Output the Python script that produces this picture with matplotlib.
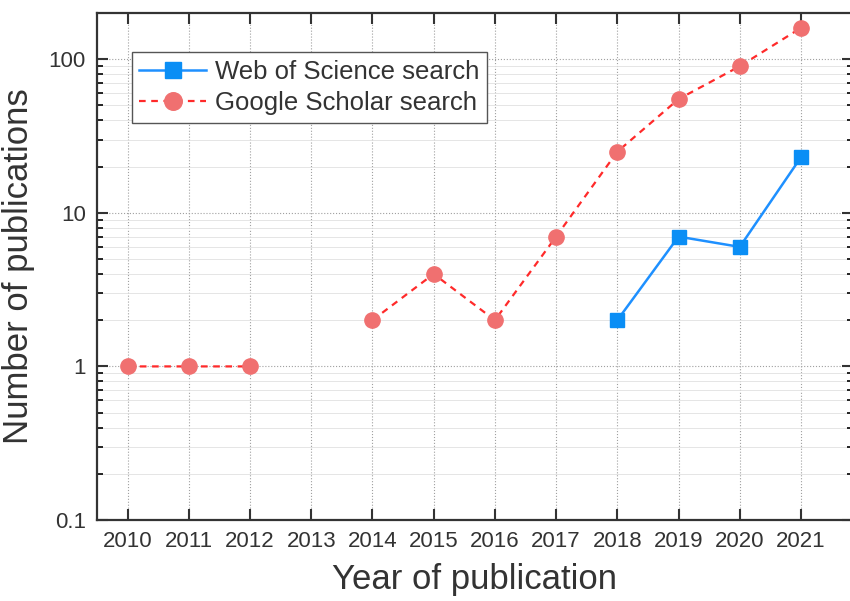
import matplotlib
matplotlib.use('Agg')
import matplotlib.pyplot as plt
import numpy as np

plt.rcParams['font.family'] = ['Liberation Sans', 'DejaVu Sans']

# --- data ---
years_wos = [2018, 2019, 2020, 2021]
pubs_wos = [2, 7, 6, 23]

years_gs = [2010, 2011, 2012, 2013, 2014, 2015, 2016, 2017, 2018, 2019, 2020, 2021]
pubs_gs = [1, 1, 1, np.nan, 2, 4, 2, 7, 25, 55, 90, 160]

x_ticks = list(range(2010, 2022))
y_ticks = [0.1, 1, 10, 100]
y_tick_labels = ['0.1', '1', '10', '100']

fig = plt.figure(figsize=(8.5, 6.01), dpi=100)
ax = fig.add_axes([97/850, 1 - 520/601, (853 - 97)/850, (520 - 13)/601])

ax.plot(years_wos, pubs_wos, color='#1E90FF', lw=1.8, marker='s', ms=10,
        mfc='#0A8EF5', mec='#0A8EF5', label='Web of Science search', zorder=4)
ax.plot(years_gs, pubs_gs, color='#FF2A2A', lw=1.6, ls=(0, (3, 2.5)), marker='o', ms=11,
        mfc='#F07070', mec='#F07070', label='Google Scholar search', zorder=3)

ax.set_yscale('log')
ax.set_xlim(2009.5, 2021.85)
ax.set_ylim(0.1, 200)
ax.set_xticks(x_ticks)
ax.set_xticklabels([str(y) for y in x_ticks])
ax.set_yticks(y_ticks)
ax.set_yticklabels(y_tick_labels)

ax.grid(True, which='major', color='#A0A0A0', ls=':', lw=0.8)
ax.grid(True, which='minor', axis='y', color='#E0E0E0', ls='-', lw=0.6)

ax.tick_params(which='major', direction='in', length=8, width=1.5, labelsize=16,
               colors='#333333', top=True, right=True, pad=8)
ax.tick_params(which='minor', direction='in', length=4, width=1.2, right=True)
ax.tick_params(axis='x', which='minor', bottom=False, top=False)
for s in ax.spines.values():
    s.set_linewidth(1.6)
    s.set_color('#333333')

ax.set_xlabel('Year of publication', fontsize=25, color='#333333', labelpad=8)
ax.set_ylabel('Number of publications', fontsize=25, color='#333333', labelpad=10)

leg = ax.legend(loc='upper left', bbox_to_anchor=(0.046, 0.923), fontsize=18.5,
                fancybox=False, edgecolor='#555555', framealpha=1, borderpad=0.3,
                handlelength=2.6, handletextpad=0.35, labelspacing=0.3, borderaxespad=0,
                markerscale=1.15)
leg.get_frame().set_linewidth(1.0)
for t in leg.get_texts():
    t.set_color('#333333')

fig.savefig('out.png', dpi=100)
